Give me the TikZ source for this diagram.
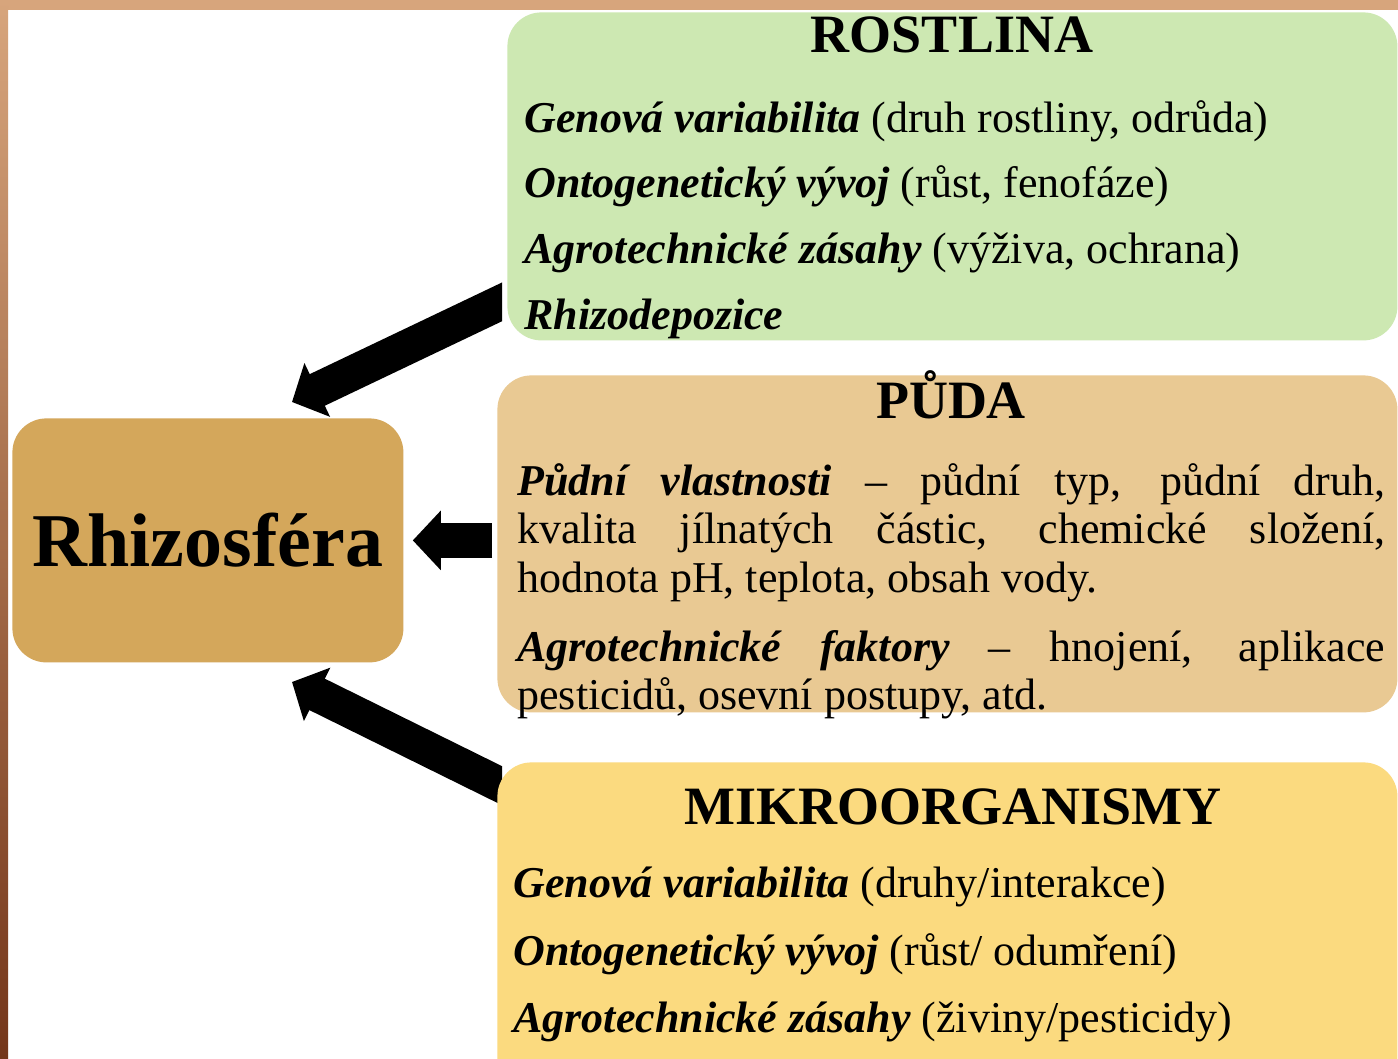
\documentclass[tikz,border=0pt]{standalone}
\usepackage{fontspec}
\setmainfont{Liberation Serif}
\usetikzlibrary{arrows.meta,positioning}
\definecolor{framecol}{HTML}{D7A57C}
\definecolor{framedark}{HTML}{74361A}
\definecolor{rostlinacol}{HTML}{CDE8B2}
\definecolor{pudacol}{HTML}{E9C993}
\definecolor{mikrocol}{HTML}{FBDA7F}
\definecolor{rhizocol}{HTML}{D4A75B}
\newcommand{\Bi}[1]{\textbf{\textit{#1}}}
\tikzset{box/.style={rounded corners=17pt,inner sep=0pt,draw=none}}
\tikzset{boxtitle/.style={font=\fontsize{27}{32}\selectfont\bfseries,anchor=base,inner sep=0pt}}
\tikzset{textline/.style={font=\fontsize{22}{26}\selectfont,anchor=base west,inner sep=0pt}}
\tikzset{bigarrow/.style={line width=17.5pt,-{Triangle[length=14pt,width=29pt]}}}

\begin{document}
\begin{tikzpicture}[x=0.5pt,y=-0.5pt]
\useasboundingbox (0,0) rectangle (1398,1059);
\fill[white] (0,0) rectangle (1398,1059);
% frame of the slide
\fill[framecol] (0,0) rectangle (1398,10);
\shade[top color=framecol,bottom color=framedark] (0,0) rectangle (8,1059);
%
\coordinate (tipR) at (292,402);
\coordinate (tailR) at (529,289);
\coordinate (tipM) at (292,682);
\coordinate (tailM) at (527,798);
\begin{scope}
\clip (0,0) rectangle (502,1059);
\draw[bigarrow] (tailR) -- (tipR);
\draw[bigarrow] (tailM) -- (tipM);
\end{scope}
%
\node[box,fill=rostlinacol,minimum width=445pt,minimum height=164pt,anchor=north west] (rostlina) at (507,12) {};
\node[box,fill=pudacol,minimum width=450pt,minimum height=168.5pt,anchor=north west] (puda) at (497,375) {};
\node[box,fill=mikrocol,minimum width=450pt,minimum height=170pt,anchor=north west] (mikro) at (497,762) {};
\node[box,fill=rhizocol,minimum width=195.5pt,minimum height=122pt,anchor=north west,
      font=\fontsize{38}{44}\selectfont\bfseries] (rhizo) at (12,418) {Rhizosféra};
%
\draw[bigarrow] ([xshift=-2.5pt]puda.west |- rhizo.east) -- ([xshift=4.5pt]rhizo.east);
%
\node[boxtitle] (rostlinanadpis) at (952,53) {ROSTLINA};
\node[textline] (r1) at (524,133) {\Bi{Genová variabilita} (druh rostliny, odrůda)};
\node[textline] (r2) at (524,198) {\Bi{Ontogenetický vývoj} (růst, fenofáze)};
\node[textline] (r3) at (524,264) {\Bi{Agrotechnické zásahy} (výživa, ochrana)};
\node[textline] (r4) at (524,329) {\Bi{Rhizodepozice}};
%
\node[boxtitle] (pudanadpis) at (951,418) {PŮDA};
\node[textline] (p1) at (517,495) {\makebox[434pt][s]{\Bi{Půdní vlastnosti} – půdní typ, půdní druh,}};
\node[textline] (p2) at (517,543) {\makebox[434pt][s]{kvalita jílnatých částic, chemické složení,}};
\node[textline] (p3) at (517,592) {hodnota pH, teplota, obsah vody.};
\node[textline] (p4) at (517,661) {\makebox[434pt][s]{\Bi{Agrotechnické faktory} – hnojení, aplikace}};
\node[textline] (p5) at (517,709) {pesticidů, osevní postupy, atd.};
%
\node[boxtitle] (mikronadpis) at (953,824) {MIKROORGANISMY};
\node[textline] (m1) at (513,897) {\Bi{Genová variabilita} (druhy/interakce)};
\node[textline] (m2) at (513,965) {\Bi{Ontogenetický vývoj} (růst/ odumření)};
\node[textline] (m3) at (513,1032) {\Bi{Agrotechnické zásahy} (živiny/pesticidy)};
\end{tikzpicture}
\end{document}
